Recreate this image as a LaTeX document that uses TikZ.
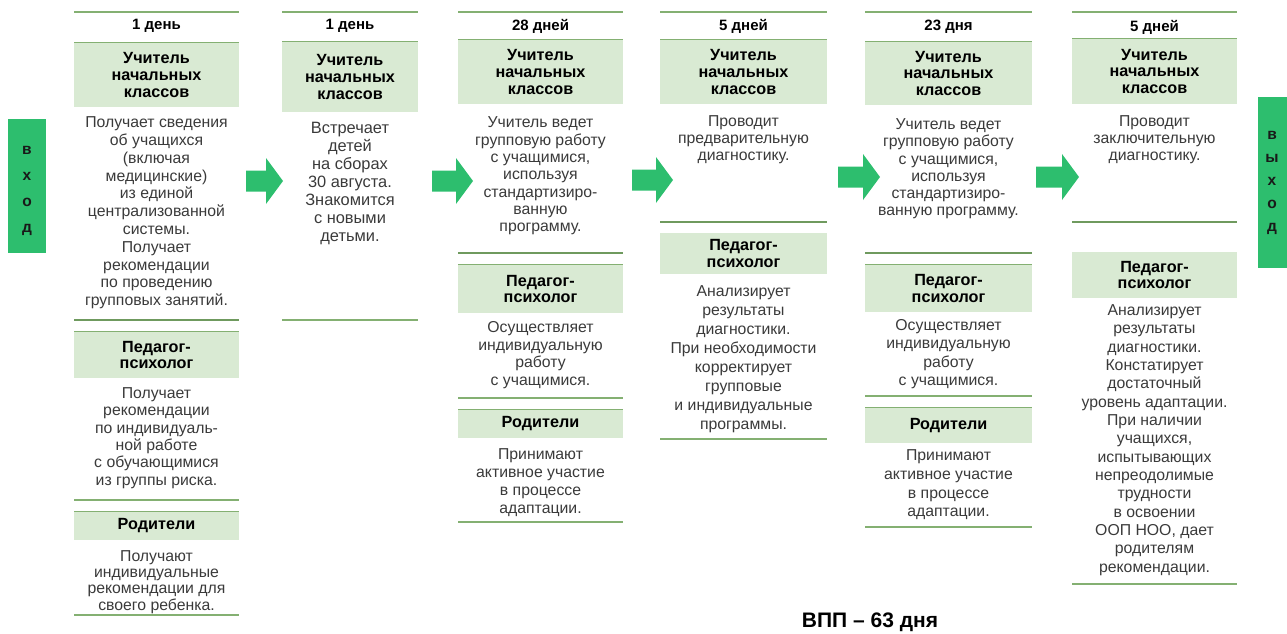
\documentclass[tikz,border=0pt]{standalone}
\usepackage{fontspec}
\setmainfont{Liberation Sans}
\definecolor{hdrgreen}{HTML}{D9EAD3}
\definecolor{linegreen}{HTML}{84B072}
\definecolor{darkline}{HTML}{6F9A5E}
\definecolor{bigg}{HTML}{2DBE6E}
\definecolor{bodytext}{HTML}{3A3A3A}
\tikzset{
  hdr/.style={fill=hdrgreen, inner sep=0pt, align=center, text=black,
    font=\bfseries\fontsize{16.2}{16.8}\selectfont},
  body/.style={inner sep=0pt, align=center, text=bodytext,
    font=\fontsize{15.8}{#1}\selectfont},
  body/.default=18,
  daylbl/.style={inner sep=0pt, font=\bfseries\fontsize{15}{16}\selectfont},
  gl/.style={draw=linegreen, line width=1.4pt},
  glthick/.style={draw=darkline, line width=2.6pt},
  bigbox/.style={fill=bigg, inner sep=0pt},
  boxtxt/.style={inner sep=0pt, align=center, text=black!90,
    font=\bfseries\fontsize{15.5}{#1}\selectfont},
}
\newcommand\gline[3]{\draw[gl] (#1,#3) -- (#2,#3);}
\newcommand\gthick[3]{\draw[glthick] (#1,#3) -- (#2,#3);}
\newcommand\blockarrow[3]{\fill[bigg] (#1,#3-10.5) -- (#2-17,#3-10.5) -- (#2-17,#3-23) -- (#2,#3) -- (#2-17,#3+23) -- (#2-17,#3+10.5) -- (#1,#3+10.5) -- cycle;}
\begin{document}
\begin{tikzpicture}[x=1pt,y=-1pt]
\useasboundingbox (0,0) rectangle (1287,634);

% entry / exit boxes
\node[bigbox, minimum width=38, minimum height=134] (vhod) at (27,186) {};
\node[boxtxt=26] (vhodt) at (27,191) {в\\х\\о\\д};
\node[bigbox, minimum width=30, minimum height=171] (vyhod) at (1273,182.5) {};
\node[boxtxt=22.8] (vyhodt) at (1272,183) {в\\ы\\х\\о\\д};

% arrows
\blockarrow{246}{283}{181}
\blockarrow{432}{473}{181}
\blockarrow{632}{673}{180}
\blockarrow{838}{880}{177}
\blockarrow{1036}{1079}{177}

% ---------- Column 1 ----------
\gline{74}{239}{12}
\node[daylbl] (c1d) at (156.5,26) {1 день};
\gline{74}{239}{43}
\node[hdr, minimum width=165, minimum height=64] (c1h1) at (156.5,75) {Учитель\\начальных\\классов};
\node[body=17.8] (c1b1) at (156.5,213) {Получает сведения\\об учащихся\\(включая\\медицинские)\\из единой\\централизованной\\системы.\\Получает\\рекомендации\\по проведению\\групповых занятий.};
\gthick{74}{239}{320}
\gline{74}{239}{332}
\node[hdr, minimum width=165, minimum height=46] (c1h2) at (156.5,355) {Педагог-\\психолог};
\node[body=17.4] (c1b2) at (156.5,438) {Получает\\рекомендации\\по индивидуаль-\\ной работе\\с обучающимися\\из группы риска.};
\gline{74}{239}{500}
\gline{74}{239}{512}
\node[hdr, minimum width=165, minimum height=28] (c1h3) at (156.5,526) {Родители};
\node[body=16.2] (c1b3) at (156.5,582) {Получают\\индивидуальные\\рекомендации для\\своего ребенка.};
\gline{74}{239}{615}

% ---------- Column 2 ----------
\gline{282}{418}{12}
\node[daylbl] (c2d) at (350,26) {1 день};
\gline{282}{418}{42}
\node[hdr, minimum width=136, minimum height=70] (c2h1) at (350,77) {Учитель\\начальных\\классов};
\node[body=18, font=\fontsize{16.4}{18}\selectfont] (c2b1) at (350,183) {Встречает\\детей\\на сборах\\30 августа.\\Знакомится\\с новыми\\детьми.};
\gline{282}{418}{320}

% ---------- Column 3 ----------
\gline{458}{623}{12}
\node[daylbl] (c3d) at (540.5,26) {28 дней};
\gline{458}{623}{40}
\node[hdr, minimum width=165, minimum height=64] (c3h1) at (540.5,72) {Учитель\\начальных\\классов};
\node[body=17.3] (c3b1) at (540.5,176) {Учитель ведет\\групповую работу\\с учащимися,\\используя\\стандартизиро-\\ванную\\программу.};
\gthick{458}{623}{253}
\gline{458}{623}{265}
\node[hdr, minimum width=165, minimum height=48] (c3h2) at (540.5,289) {Педагог-\\психолог};
\node[body=17.7] (c3b2) at (540.5,355) {Осуществляет\\индивидуальную\\работу\\с учащимися.};
\gline{458}{623}{398}
\gline{458}{623}{410}
\node[hdr, minimum width=165, minimum height=28] (c3h3) at (540.5,424) {Родители};
\node[body=18] (c3b3) at (540.5,483) {Принимают\\активное участие\\в процессе\\адаптации.};
\gline{458}{623}{522}

% ---------- Column 4 ----------
\gline{660}{827}{12}
\node[daylbl] (c4d) at (743.5,26) {5 дней};
\gline{660}{827}{40}
\node[hdr, minimum width=167, minimum height=64] (c4h1) at (743.5,72) {Учитель\\начальных\\классов};
\node[body=17] (c4b1) at (743.5,140) {Проводит\\предварительную\\диагностику.};
\gthick{660}{827}{222}
\node[hdr, minimum width=167, minimum height=41] (c4h2) at (743.5,253.5) {Педагог-\\психолог};
\node[body=19] (c4b2) at (743.5,359) {Анализирует\\результаты\\диагностики.\\При необходимости\\корректирует\\групповые\\и индивидуальные\\программы.};
\gline{660}{827}{439}

% ---------- Column 5 ----------
\gline{865}{1032}{12}
\node[daylbl] (c5d) at (948.5,27) {23 дня};
\gline{865}{1032}{42}
\node[hdr, minimum width=167, minimum height=63] (c5h1) at (948.5,73.5) {Учитель\\начальных\\классов};
\node[body=17.2] (c5b1) at (948.5,169) {Учитель ведет\\групповую работу\\с учащимися,\\используя\\стандартизиро-\\ванную программу.};
\gthick{865}{1032}{253}
\gline{865}{1032}{265}
\node[hdr, minimum width=167, minimum height=47] (c5h2) at (948.5,288.5) {Педагог-\\психолог};
\node[body=18.3] (c5b2) at (948.5,354) {Осуществляет\\индивидуальную\\работу\\с учащимися.};
\gline{865}{1032}{396}
\gline{865}{1032}{408}
\node[hdr, minimum width=167, minimum height=35] (c5h3) at (948.5,425.5) {Родители};
\node[body=18.7] (c5b3) at (948.5,485) {Принимают\\активное участие\\в процессе\\адаптации.};
\gline{865}{1032}{527}

% ---------- Column 6 ----------
\gline{1072}{1237}{12}
\node[daylbl] (c6d) at (1154.5,27) {5 дней};
\gline{1072}{1237}{39}
\node[hdr, minimum width=165, minimum height=65] (c6h1) at (1154.5,71.5) {Учитель\\начальных\\классов};
\node[body=17] (c6b1) at (1154.5,140) {Проводит\\заключительную\\диагностику.};
\gthick{1072}{1237}{222}
\node[hdr, minimum width=165, minimum height=46] (c6h2) at (1154.5,275) {Педагог-\\психолог};
\node[body=18.36] (c6b2) at (1154.5,440) {Анализирует\\результаты\\диагностики.\\Констатирует\\достаточный\\уровень адаптации.\\При наличии\\учащихся,\\испытывающих\\непреодолимые\\трудности\\в освоении\\ООП НОО, дает\\родителям\\рекомендации.};
\gline{1072}{1237}{584}

% total
\node[inner sep=0pt, font=\bfseries\fontsize{21}{22}\selectfont] (total) at (870,622) {ВПП – 63 дня};
\end{tikzpicture}
\end{document}
